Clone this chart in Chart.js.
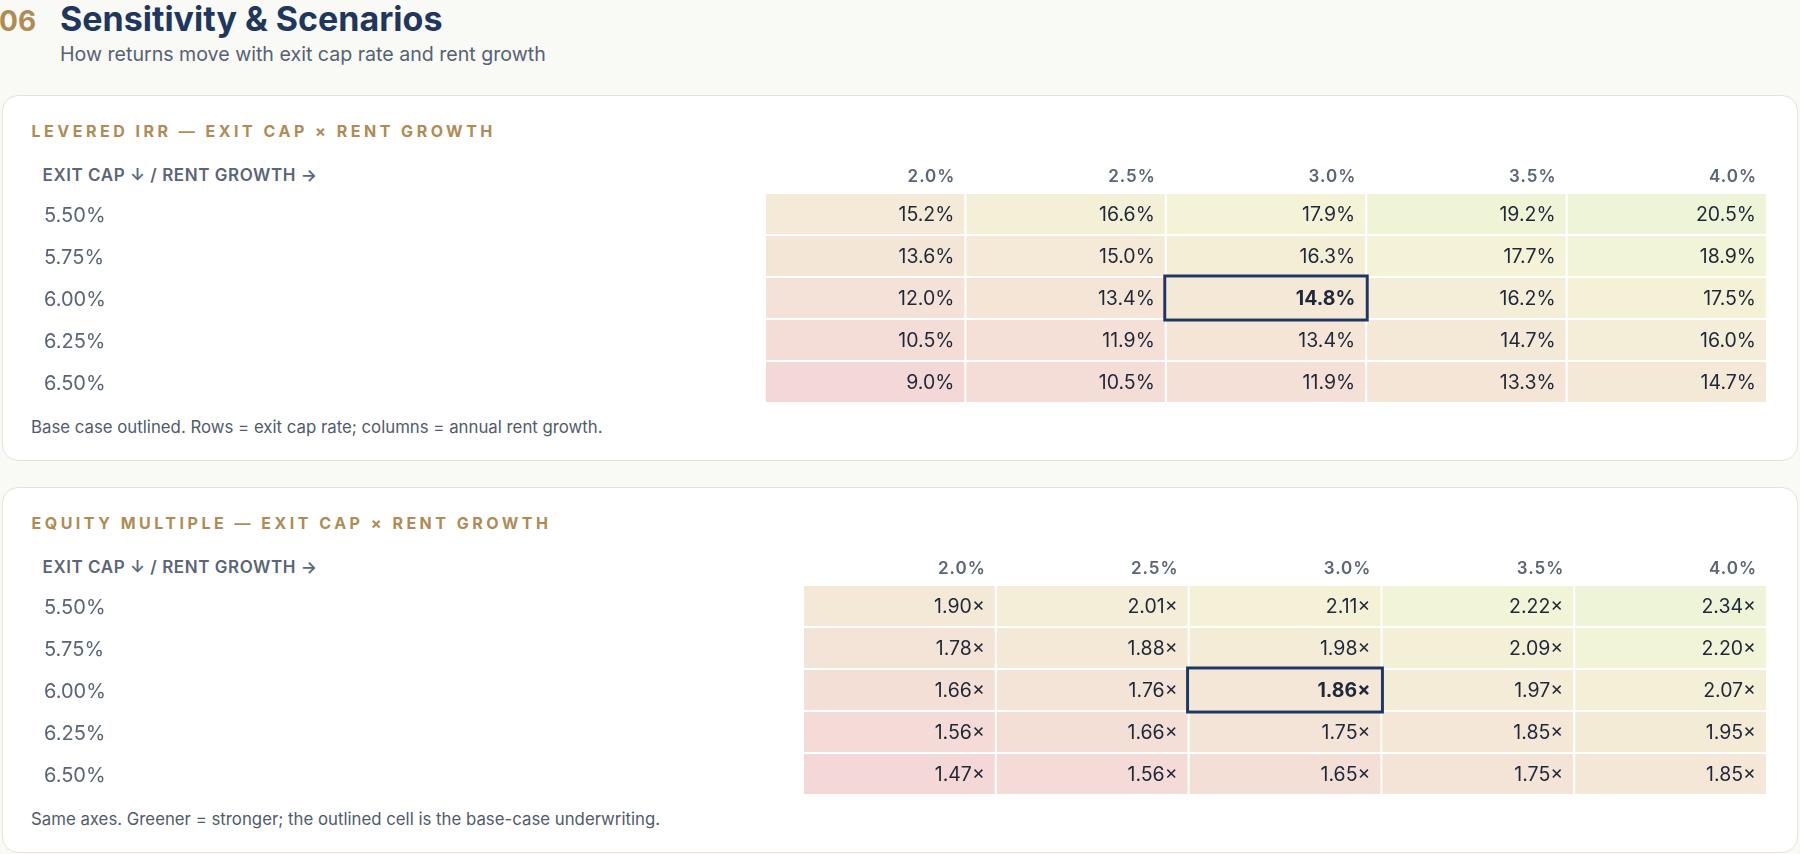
<!DOCTYPE html>
<html>
<head>
<meta charset="utf-8">
<script src="https://cdn.jsdelivr.net/npm/chart.js@4.4.1/dist/chart.umd.min.js"></script>
<style>
  html, body { margin: 0; padding: 0; }
  body { width: 1800px; height: 854px; background: #f9f9f5; font-family: Inter, sans-serif; position: relative; overflow: hidden; }
  .t { position: absolute; white-space: nowrap; line-height: 1; }
  .card { position: absolute; left: 2px; width: 1796px; height: 366px; background: #fff; border: 1.5px solid #e6e2d7; border-radius: 16px; box-sizing: border-box; }
  .num { font-weight: 700; font-size: 28px; color: #b08b55; left: -1px; top: 6.8px; }
  .title { font-weight: 700; font-size: 34px; color: #1f365f; left: 60px; top: 1.6px; }
  .sub { font-weight: 400; font-size: 19.6px; color: #566274; left: 60px; top: 45.4px; }
  .ctitle { font-weight: 700; font-size: 16px; letter-spacing: 3.5px; color: #b08b55; left: 31.5px; }
  .corner { font-weight: 600; font-size: 17px; letter-spacing: 0.55px; color: #5a6577; left: 42.6px; }
  .foot { font-weight: 400; font-size: 16.8px; color: #505b6b; left: 31px; }
  .chartbox { position: absolute; left: 44px; width: 1723px; height: 257px; }
</style>
</head>
<body>
<div class="t num">06</div>
<div class="t title">Sensitivity &amp; Scenarios</div>
<div class="t sub">How returns move with exit cap rate and rent growth</div>

<div class="card" style="top:95px"></div>
<div class="card" style="top:487px"></div>

<div class="t ctitle" style="top:122.9px">LEVERED IRR — EXIT CAP × RENT GROWTH</div>
<div class="t corner" style="top:167.3px">EXIT CAP ↓ / RENT GROWTH →</div>
<div class="chartbox" style="top:158px"><canvas id="irrChart"></canvas></div>
<div class="t foot" style="top:418.5px">Base case outlined. Rows = exit cap rate; columns = annual rent growth.</div>

<div class="t ctitle" style="top:514.9px">EQUITY MULTIPLE — EXIT CAP × RENT GROWTH</div>
<div class="t corner" style="top:559.3px">EXIT CAP ↓ / RENT GROWTH →</div>
<div class="chartbox" style="top:550px"><canvas id="emChart"></canvas></div>
<div class="t foot" style="top:810.5px">Same axes. Greener = stronger; the outlined cell is the base-case underwriting.</div>

<script>
// ---- Data ----
const exitCaps = ['5.50%', '5.75%', '6.00%', '6.25%', '6.50%'];
const rentGrowth = ['2.0%', '2.5%', '3.0%', '3.5%', '4.0%'];
const baseExitCap = '6.00%';
const baseRentGrowth = '3.0%';

// Levered IRR (%), one array per rent-growth column, rows = exit caps
const irr_g20 = [15.2, 13.6, 12.0, 10.5, 9.0];
const irr_g25 = [16.6, 15.0, 13.4, 11.9, 10.5];
const irr_g30 = [17.9, 16.3, 14.8, 13.4, 11.9];
const irr_g35 = [19.2, 17.7, 16.2, 14.7, 13.3];
const irr_g40 = [20.5, 18.9, 17.5, 16.0, 14.7];

// Equity multiple (x), one array per rent-growth column
const em_g20 = [1.90, 1.78, 1.66, 1.56, 1.47];
const em_g25 = [2.01, 1.88, 1.76, 1.66, 1.56];
const em_g30 = [2.11, 1.98, 1.86, 1.75, 1.65];
const em_g35 = [2.22, 2.09, 1.97, 1.85, 1.75];
const em_g40 = [2.34, 2.20, 2.07, 1.95, 1.85];

const irrColumns = [irr_g20, irr_g25, irr_g30, irr_g35, irr_g40];
const emColumns = [em_g20, em_g25, em_g30, em_g35, em_g40];

// ---- Style helpers ----
Chart.defaults.font.family = 'Inter, sans-serif';

function heatColor(v, min, max) {
  const t = Math.max(0, Math.min(1, (v - min) / (max - min)));
  return 'hsl(' + (75 * t).toFixed(1) + ', 55%, 90%)';
}

const formats = {
  irrChart: v => v.toFixed(1) + '%',
  emChart: v => v.toFixed(2) + '×'
};

const cellPlugin = {
  id: 'cellText',
  afterDatasetsDraw(chart) {
    const fmt = formats[chart.canvas.id];
    const { ctx, chartArea, scales } = chart;
    const x = scales.x;
    ctx.save();
    // column headers
    ctx.font = '600 17px Inter, sans-serif';
    if ('letterSpacing' in ctx) ctx.letterSpacing = '1px';
    ctx.fillStyle = '#5a6577';
    ctx.textAlign = 'right';
    ctx.textBaseline = 'alphabetic';
    rentGrowth.forEach((lab, j) => {
      ctx.fillText(lab, x.getPixelForValue(j + 1) - 10, chartArea.top - 11);
    });
    if ('letterSpacing' in ctx) ctx.letterSpacing = '0px';
    // cell values + base outline
    let outline = null;
    chart.data.datasets.forEach((ds, j) => {
      const meta = chart.getDatasetMeta(j);
      const vals = chart.$columns[j];
      meta.data.forEach((bar, i) => {
        const right = Math.max(bar.x, bar.base);
        const left = Math.min(bar.x, bar.base);
        const isBase = exitCaps[i] === baseExitCap && rentGrowth[j] === baseRentGrowth;
        ctx.font = (isBase ? '700 ' : '400 ') + '19.5px Inter, sans-serif';
        ctx.fillStyle = '#1e2838';
        ctx.fillText(fmt(vals[i]), right - 11, bar.y + 7);
        if (isBase) outline = { left: left + 1, right: right - 1, top: bar.y - bar.height / 2, bottom: bar.y + bar.height / 2 };
      });
    });
    if (outline) {
      ctx.strokeStyle = '#1f365f';
      ctx.lineWidth = 3;
      ctx.strokeRect(outline.left - 2, outline.top - 2, outline.right - outline.left + 4, outline.bottom - outline.top + 4);
    }
    ctx.restore();
  }
};

function makeHeatmap(canvasId, columns, axisWidth) {
  const all = columns.flat();
  const min = Math.min(...all), max = Math.max(...all);
  const datasets = columns.map((col, j) => ({
    label: rentGrowth[j],
    data: col.map(() => [j, j + 1]),
    backgroundColor: col.map(v => heatColor(v, min, max)),
    borderColor: '#ffffff',
    borderWidth: { left: 1, right: 1, top: 0, bottom: 0 },
    borderSkipped: false,
    inflateAmount: 0,
    grouped: false,
    barPercentage: 40 / 42,
    categoryPercentage: 1
  }));
  const canvas = document.getElementById(canvasId);
  const chart = new Chart(canvas, {
    type: 'bar',
    data: { labels: exitCaps, datasets },
    options: {
      indexAxis: 'y',
      responsive: true,
      maintainAspectRatio: false,
      animation: false,
      events: [],
      layout: { padding: { top: 35, left: 0, right: 0, bottom: 0 } },
      plugins: {
        legend: { display: false },
        tooltip: { enabled: false }
      },
      scales: {
        x: { type: 'linear', min: 0, max: 5, display: false },
        y: {
          type: 'category',
          grid: { display: false },
          border: { display: false },
          ticks: {
            padding: 0,
            crossAlign: 'far',
            labelOffset: 2,
            color: '#5a6577',
            font: { size: 20, weight: '400' }
          },
          afterFit(scale) { scale.width = axisWidth; }
        }
      }
    },
    plugins: [{ id: 'cols', beforeInit(c) { c.$columns = columns; } }, cellPlugin]
  });
  return chart;
}

makeHeatmap('irrChart', irrColumns, 721);
makeHeatmap('emChart', emColumns, 759);
</script>
</body>
</html>
